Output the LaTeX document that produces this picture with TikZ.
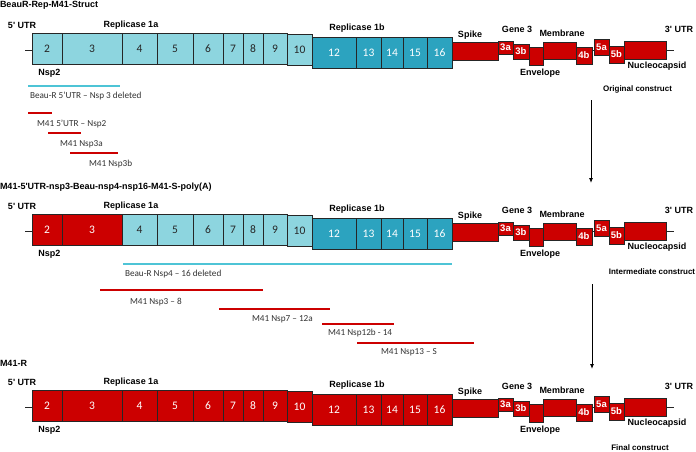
\documentclass[tikz,border=0pt]{standalone}
\usepackage{fontspec}
\setmainfont{Liberation Sans}
\newfontfamily\calfont[Ligatures=TeX]{Carlito}
\usetikzlibrary{arrows.meta}
\definecolor{beauLight}{HTML}{8DD5DF}
\definecolor{beauDark}{HTML}{2CA3BF}
\definecolor{mfortyone}{HTML}{CC0000}
\definecolor{beauBar}{HTML}{4EC4D6}
\tikzset{
	genome map/.style={
		x=1pt,y=-1pt,
		every node/.style={inner sep=0pt,outer sep=0pt}
	},
	nsp box/.style={
		rectangle,
		draw=black!85,
		line width=0.7pt,
		minimum height=31pt,
		font=\calfont\fontsize{11.5}{12}\selectfont
	},
	beau light/.style={fill=beauLight,text=black!85},
	beau dark/.style={fill=beauDark,text=white},
	m41/.style={fill=mfortyone,text=white},
	orf box/.style={
		rectangle,
		draw=black!85,
		line width=0.7pt,
		fill=mfortyone,
		text=white,
		font=\bfseries\fontsize{9.5}{10}\selectfont
	},
	feature label/.style={font=\bfseries\fontsize{9}{10}\selectfont},
	title label/.style={anchor=west,font=\bfseries\fontsize{9}{10}\selectfont},
	construct label/.style={font=\bfseries\fontsize{8}{9}\selectfont},
	fragment label/.style={anchor=west,text=black!80,font=\calfont\fontsize{9.2}{10}\selectfont},
	utr line/.style={line width=0.9pt,black!85},
	beau bar/.style={line width=2pt,beauBar},
	m41 bar/.style={line width=2pt,mfortyone},
	construct arrow/.style={line width=0.9pt,-{Latex[length=5pt,width=4pt]}}
}
\newcommand{\genomerow}[5]{% tag, y offset, nsp2-3, nsp4-10, nsp12-16
	\begin{scope}[shift={(0,#2)}]
		\coordinate (#1-axis) at (0,50);
		\coordinate (#1-utr5) at (25,50);
		\coordinate (#1-utr3) at (674,50);
		\foreach \n/\xa/\xb in {2/32/62,3/62/122}
			\node[nsp box,#3,minimum width={(\xb-\xa)*1pt}] (#1-nsp\n) at ({(\xa+\xb)/2},48.5) {\n};
		\foreach \n/\xa/\xb in {4/122/157,5/157/193,6/193/223,7/223/243,8/243/263,9/263/287}
			\node[nsp box,#4,minimum width={(\xb-\xa)*1pt}] (#1-nsp\n) at ({(\xa+\xb)/2},48.5) {\n};
		\node[nsp box,#4,minimum width=25pt] (#1-nsp10) at (299.5,49.5) {10};
		\foreach \n/\xa/\xb in {12/312/356,13/356/381,14/381/403,15/403/427,16/427/452}
			\node[nsp box,#5,minimum width={(\xb-\xa)*1pt}] (#1-nsp\n) at ({(\xa+\xb)/2},52.5) {\n};
		\foreach \g/\xa/\xb/\ya/\yb/\lab in {spike/452/498/42/60/{},3a/498/513/41/54/3a,3b/513/529/44/59/3b,
			env/529/543/47/65/{},mem/543/576/42/59/{},4b/576/592/47/64/4b,5a/594/609/39/55/5a,
			5b/609/624/46/63/5b,nuc/624/666/41/59/{}}
			\node[orf box,minimum width={(\xb-\xa)*1pt},minimum height={(\yb-\ya)*1pt}] (#1-\g)
				at ({(\xa+\xb)/2},{(\ya+\yb)/2}) {\lab};
		\draw[utr line] (#1-utr5) -- (#1-nsp2.west |- #1-axis);
		\draw[utr line] (#1-4b.east |- #1-axis) -- (#1-5a.west |- #1-axis);
		\draw[utr line] (#1-nuc.east |- #1-axis) -- (#1-utr3);
		% gene labels
		\node[feature label,anchor=west] (#1-utr5lab) at (8,25) {5\textquotesingle{} UTR};
		\node[feature label] (#1-rep1a) at (131,25) {Replicase 1a};
		\node[feature label] (#1-rep1b) at (357,28) {Replicase 1b};
		\node[feature label] (#1-spikelab) at (470,35) {Spike};
		\node[feature label] (#1-gene3) at (517,29) {Gene 3};
		\node[feature label] (#1-memlab) at (562,33) {Membrane};
		\node[feature label] (#1-utr3lab) at (679,29) {3\textquotesingle{} UTR};
		\node[feature label] (#1-nsp2lab) at (49.5,73) {Nsp2};
		\node[feature label] (#1-envlab) at (540,73) {Envelope};
		\node[feature label] (#1-nuclab) at (657,66) {Nucleocapsid};
	\end{scope}
}
\newcommand{\fragment}[8]{% name, bar style, x from, x to, y, label x, label y, text
	\draw[#2] (#3,#5) -- (#4,#5);
	\node[fragment label] (#1) at (#6,#7) {#8};
}
\begin{document}
\begin{tikzpicture}[genome map]
	\useasboundingbox[fill=white] (0,0) rectangle (696,452);
	% three constructs
	\node[title label] (title1) at (0,5) {BeauR-Rep-M41-Struct};
	\genomerow{orig}{0}{beau light}{beau light}{beau dark}
	\node[construct label] (orig-name) at (637.5,89) {Original construct};
	\node[title label] (title2) at (0,187) {M41-5\textquotesingle UTR-nsp3-Beau-nsp4-nsp16-M41-S-poly(A)};
	\genomerow{inter}{181}{m41}{beau light}{beau dark}
	\node[construct label] (inter-name) at (652,272) {Intermediate construct};
	\node[title label] (title3) at (0,363) {M41-R};
	\genomerow{final}{357}{m41}{m41}{m41}
	\node[construct label] (final-name) at (640,448) {Final construct};
	% fragments
	\fragment{del1}{beau bar}{28}{120}{86}{30}{96}{Beau-R 5’UTR -- Nsp 3 deleted}
	\fragment{frag1}{m41 bar}{28}{52}{113}{37}{124}{M41 5’UTR -- Nsp2}
	\fragment{frag2}{m41 bar}{48}{81}{133}{60}{144}{M41 Nsp3a}
	\fragment{frag3}{m41 bar}{70}{118}{153}{89}{164}{M41 Nsp3b}
	\fragment{del2}{beau bar}{123}{452}{264}{125}{274}{Beau-R Nsp4 -- 16 deleted}
	\fragment{frag4}{m41 bar}{100}{263}{290}{130}{302}{M41 Nsp3 -- 8}
	\fragment{frag5}{m41 bar}{219}{330}{309}{252}{319}{M41 Nsp7 -- 12a}
	\fragment{frag6}{m41 bar}{322}{394}{324}{328}{333}{M41 Nsp12b - 14}
	\fragment{frag7}{m41 bar}{357}{474}{343}{381}{352}{M41 Nsp13 -- S}
	% steps
	\coordinate (step1 top) at (591,100);
	\coordinate (step1 end) at (591,183);
	\coordinate (step2 top) at (592,284);
	\coordinate (step2 end) at (592,369);
	\draw[construct arrow] (step1 top) -- (step1 end);
	\draw[construct arrow] (step2 top) -- (step2 end);
\end{tikzpicture}
\end{document}
